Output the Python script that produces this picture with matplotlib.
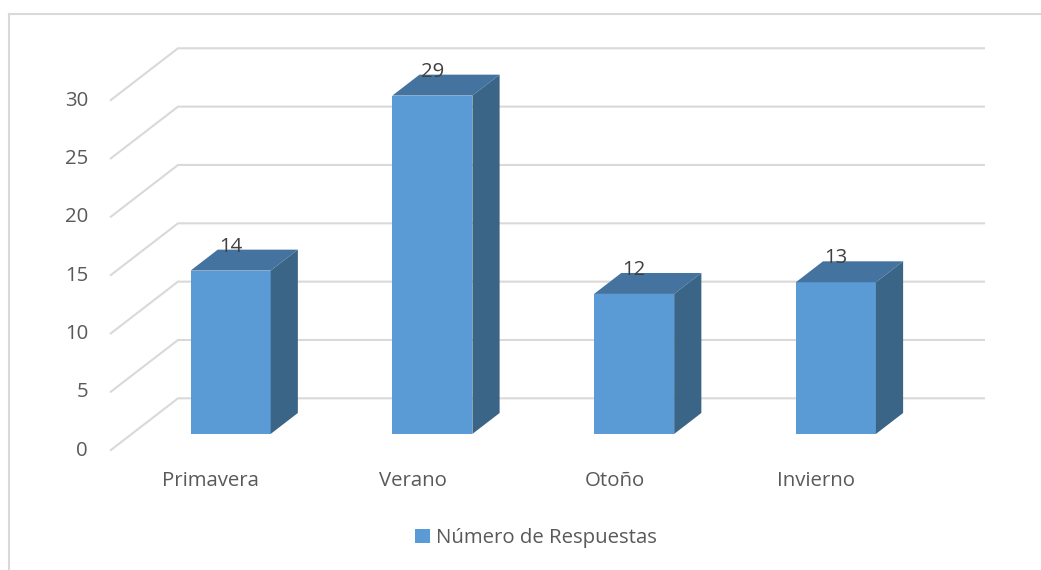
import matplotlib
matplotlib.use("Agg")
from matplotlib import pyplot as plt
from matplotlib.patches import Polygon, Rectangle, Patch
from matplotlib.lines import Line2D
import numpy as np

plt.rcParams['font.family'] = ['Open Sans', 'DejaVu Sans']

categories = ['Primavera', 'Verano', 'Otoño', 'Invierno']
values = [14, 29, 12, 13]
yticks = [0, 5, 10, 15, 20, 25, 30]
series_name = 'Número de Respuestas'

# colours
front_c = '#5B9BD5'
top_c = '#4573A0'
side_c = '#3A6587'
grid_c = '#D9D9D9'
text_c = '#595959'

# oblique depth of the floor (data units) and bar geometry
DX = 0.337   # depth shift along x (category units)
DY = 4.49    # depth shift along y (value units)
W = 0.397    # bar width
d0, d1 = 0.32, 0.72  # bar depth span as fraction of floor depth
ymax = 30
fs = 14.7

fig = plt.figure(figsize=(10.41, 5.70), dpi=100)
ax = fig.add_axes([110/1041, (570-450.7)/570, 875/1041, 402.4/570])
ax.set_xlim(-0.5, len(categories) - 0.5 + DX)
ax.set_ylim(0, ymax + DY)
ax.axis('off')

# gridlines: diagonal on left side wall + horizontal on back wall
for v in yticks:
    ax.plot([-0.5, -0.5 + DX, len(categories) - 0.5 + DX], [v, v + DY, v + DY],
            color=grid_c, lw=1.5, zorder=1, clip_on=False, solid_capstyle='butt')
    ax.annotate(str(v), (-0.5, v), xytext=(-22, 0), textcoords='offset pixels',
                ha='right', va='center', fontsize=fs, color=text_c)

# 3d looking bars
dd = d1 - d0
for i, v in enumerate(values):
    x0 = i + d0 * DX - W / 2 - 0.01
    y0 = d0 * DY
    ax.add_patch(Rectangle((x0, y0), W, v, facecolor=front_c, edgecolor='none', zorder=3))
    top = [(x0, y0 + v), (x0 + W, y0 + v),
           (x0 + W + dd * DX, y0 + v + dd * DY), (x0 + dd * DX, y0 + v + dd * DY)]
    ax.add_patch(Polygon(top, closed=True, facecolor=top_c, edgecolor='none', zorder=3))
    side = [(x0 + W, y0), (x0 + W + dd * DX, y0 + dd * DY),
            (x0 + W + dd * DX, y0 + v + dd * DY), (x0 + W, y0 + v)]
    ax.add_patch(Polygon(side, closed=True, facecolor=side_c, edgecolor='none', zorder=3))
    ax.text(x0 + W / 2, v + 3.48, str(v), ha='center', va='center',
            fontsize=fs, color='#404040', zorder=4)
    ax.annotate(categories[i], (i, 0), xytext=(0, -30), textcoords='offset pixels',
                ha='center', va='center', fontsize=fs, color=text_c)

fig.legend(handles=[Patch(facecolor=front_c, edgecolor='none', label=series_name)],
           loc='center', bbox_to_anchor=(0.515, 0.056), frameon=False,
           handlelength=0.7, handleheight=0.7, handletextpad=0.3,
           fontsize=fs, labelcolor=text_c)

# chart frame (cut at right and bottom)
fy = 1 - 13.5 / 570
fx = 8.5 / 1041
fig.add_artist(Line2D([fx, fx], [0, fy], transform=fig.transFigure, color=grid_c, lw=1.5))
fig.add_artist(Line2D([fx, 1], [fy, fy], transform=fig.transFigure, color=grid_c, lw=1.5))

fig.savefig('out.png', dpi=100, facecolor='white')
